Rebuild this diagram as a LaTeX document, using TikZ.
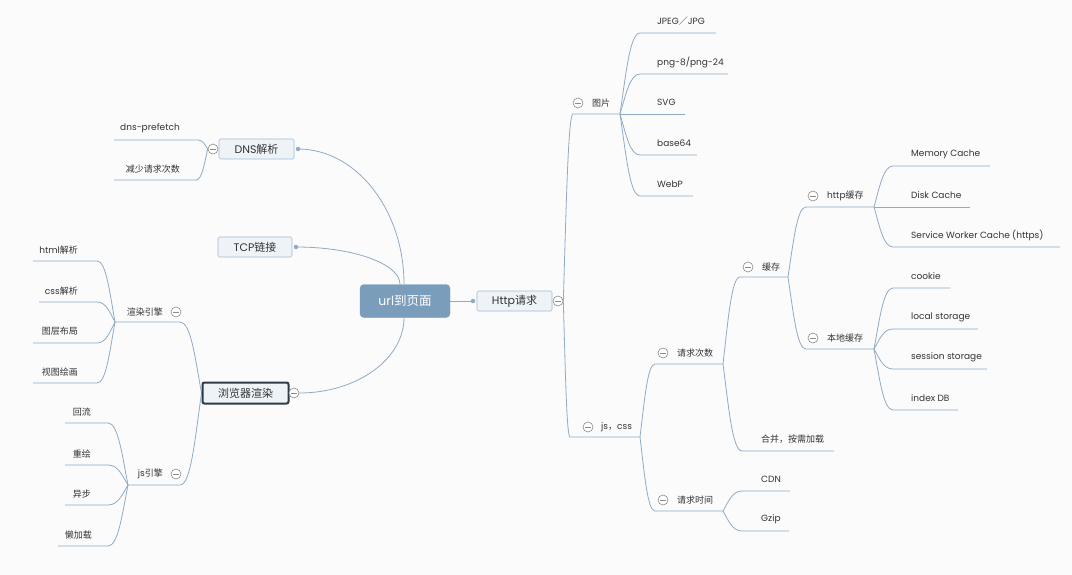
\documentclass[tikz,border=0pt]{standalone}
\usepackage{fontspec}
\setmainfont{Poppins}
\newfontfamily\cjk{Noto Sans CJK SC}
\usetikzlibrary{calc}
\definecolor{bgc}{HTML}{FBFBFB}
\definecolor{lc}{HTML}{8FABC6}
\definecolor{bfill}{HTML}{EEF3F8}
\definecolor{bbord}{HTML}{A3BCD3}
\definecolor{cfill}{HTML}{7B9DBC}
\definecolor{dbord}{HTML}{2E3B47}
\definecolor{tc}{HTML}{333333}
\definecolor{cgray}{HTML}{8A8A8A}
\pgfdeclarelayer{bg}
\pgfsetlayers{bg,main}
\begin{document}
\begin{tikzpicture}[x=1pt,y=-1pt,
  conn/.style={draw=lc, line width=0.8pt},
  mm/.style={to path={let \p1=(\tikztostart), \p2=(\tikztotarget) in
     .. controls ({\x1+0.3*(\x2-\x1)},{\y1+0.5*(\y2-\y1)}) and ({\x2-0.5*(\x2-\x1)},\y2) .. (\tikztotarget)}},
  ql/.style={to path={let \p1=(\tikztostart), \p2=(\tikztotarget) in
     .. controls (\x1,{\y1+0.55*(\y2-\y1)}) and ({\x2-0.55*(\x2-\x1)},\y2) .. (\tikztotarget)}},
  collapse/.style={circle, draw=cgray, fill=white, line width=0.6pt, minimum size=10pt, inner sep=0pt,
     path picture={\draw[cgray, line width=0.6pt] ([xshift=-3pt]path picture bounding box.center) -- ([xshift=3pt]path picture bounding box.center);}},
  dot/.style={circle, fill=lc, minimum size=4.5pt, inner sep=0pt},
  box/.style={draw=bbord, fill=bfill, rounded corners=1.5pt, line width=0.7pt, minimum height=20pt, inner sep=0pt, font=\fontsize{11}{12}\selectfont, text=tc},
  leaf/.style={inner sep=0pt, font=\fontsize{9}{10}\selectfont, text=tc},
  lleaf/.style={leaf, anchor=east},
  rleaf/.style={leaf, anchor=west}
]
\begin{pgfonlayer}{bg}
\fill[bgc] (0,0) rectangle (1072,575);
\end{pgfonlayer}
\useasboundingbox (0,0) rectangle (1072,575);

% ---------- main nodes ----------
\node[draw=cfill, fill=cfill, rounded corners=4pt, minimum width=90pt, minimum height=33pt, inner sep=0pt,
      text=white, font=\fontsize{12.5}{14}\selectfont] (url) at (405,301) {url{\cjk 到页面}};
\node[box, minimum width=75pt] (http) at (514.5,301) {Http{\cjk 请求}};
\node[box, minimum width=75pt] (dns) at (256.5,149) {DNS{\cjk 解析}};
\node[box, minimum width=74pt] (tcp) at (255,247) {TCP{\cjk 链接}};
\node[box, draw=dbord, line width=2pt, rounded corners=2pt, minimum width=86pt, minimum height=21pt] (br) at (245.5,393) {\cjk 浏览器渲染};

\node[dot] (httpdot) at (473,301) {};
\node[dot] (dnsdot) at (298,149) {};
\node[dot] (tcpdot) at (296,247) {};
\node[collapse] (httpc) at (558,301) {};
\node[collapse] (dnsc) at (213,149) {};
\node[collapse] (brc) at (294,393) {};

% ---------- left: DNS ----------
\node[lleaf] (dnsp) at (180,128) {dns-prefetch};
\node[lleaf] (jsqc) at (180,169) {\cjk 减少请求次数};
\coordinate (dnsp-a) at (198,140); \coordinate (dnsp-b) at (114,140);
\coordinate (jsqc-a) at (196,180); \coordinate (jsqc-b) at (114,180);

% ---------- left: browser ----------
\node[lleaf] (xryq) at (163,312) {\cjk 渲染引擎};
\node[collapse] (xryqc) at (176,312) {};
\coordinate (xryq-a) at (180,322); \coordinate (xryq-h) at (115,322);
\node[lleaf] (jsyq) at (163,474) {js{\cjk 引擎}};
\node[collapse] (jsyqc) at (176,474) {};
\coordinate (jsyq-a) at (180,485); \coordinate (jsyq-h) at (128,485);

\node[lleaf] (html) at (78,250) {html{\cjk 解析}};
\node[lleaf] (css) at (78,291) {css{\cjk 解析}};
\node[lleaf] (tcbj) at (78,331) {\cjk 图层布局};
\node[lleaf] (stht) at (78,372) {\cjk 视图绘画};
\coordinate (html-a) at (97,261); \coordinate (html-b) at (33,261);
\coordinate (css-a) at (97,302); \coordinate (css-b) at (39,302);
\coordinate (tcbj-a) at (97,343); \coordinate (tcbj-b) at (33,343);
\coordinate (stht-a) at (97,383); \coordinate (stht-b) at (33,383);

\node[lleaf] (hl) at (91,412) {\cjk 回流};
\node[lleaf] (ch) at (91,454) {\cjk 重绘};
\node[lleaf] (yb) at (91,494) {\cjk 异步};
\node[lleaf] (ljz) at (92,535) {\cjk 懒加载};
\coordinate (hl-a) at (108,423); \coordinate (hl-b) at (65,423);
\coordinate (ch-a) at (108,465); \coordinate (ch-b) at (65,465);
\coordinate (yb-a) at (108,505); \coordinate (yb-b) at (65,505);
\coordinate (ljz-a) at (108,546); \coordinate (ljz-b) at (58,546);

% ---------- right: images ----------
\node[collapse] (tpc) at (578,103) {};
\node[rleaf] (tp) at (592,103) {\cjk 图片};
\coordinate (tp-a) at (573,114); \coordinate (tp-h) at (620,114);
\node[rleaf] (jpg) at (657,21.5) {JPEG{\cjk ／}JPG};
\node[rleaf] (png) at (657,62.5) {png-8/png-24};
\node[rleaf] (svg) at (657,102.5) {SVG};
\node[rleaf] (b64) at (657,143.5) {base64};
\node[rleaf] (webp) at (657,184.5) {WebP};
\coordinate (jpg-a) at (640,33); \coordinate (jpg-b) at (716,33);
\coordinate (png-a) at (640,74); \coordinate (png-b) at (728,74);
\coordinate (svg-b) at (685,114);
\coordinate (b64-a) at (640,155); \coordinate (b64-b) at (697,155);
\coordinate (webp-a) at (640,196); \coordinate (webp-b) at (693,196);

% ---------- right: js, css ----------
\node[collapse] (jcc) at (588,427) {};
\node[rleaf] (jc) at (601,427) {js{\cjk ，}css};
\coordinate (jc-a) at (570,437); \coordinate (jc-h) at (640,437);

\node[collapse] (qqcsc) at (663,353) {};
\node[rleaf] (qqcs) at (677,353) {\cjk 请求次数};
\coordinate (qqcs-a) at (655,364); \coordinate (qqcs-h) at (723,364);
\node[collapse] (qqsjc) at (663,500) {};
\node[rleaf] (qqsj) at (677,500) {\cjk 请求时间};
\coordinate (qqsj-a) at (655,511); \coordinate (qqsj-h) at (723,511);

\node[collapse] (hcc) at (748,267) {};
\node[rleaf] (hc) at (762,267) {\cjk 缓存};
\coordinate (hc-a) at (740,277); \coordinate (hc-h) at (788,277);
\node[rleaf] (hb) at (761,439.5) {\cjk 合并，按需加载};
\coordinate (hb-a) at (742,451); \coordinate (hb-b) at (834,451);

\node[collapse] (httphcc) at (813,196) {};
\node[rleaf] (httphc) at (827,196) {http{\cjk 缓存}};
\coordinate (httphc-a) at (806,207); \coordinate (httphc-h) at (874,207);
\node[collapse] (bdhcc) at (813,338) {};
\node[rleaf] (bdhc) at (827,338) {\cjk 本地缓存};
\coordinate (bdhc-a) at (806,349); \coordinate (bdhc-h) at (874,349);

\node[rleaf] (mem) at (911,154.5) {Memory Cache};
\node[rleaf] (disk) at (911,195.5) {Disk Cache};
\node[rleaf] (sw) at (911,235.5) {Service Worker Cache (https)};
\coordinate (mem-a) at (893,166); \coordinate (mem-b) at (990,166);
\coordinate (disk-b) at (970,207);
\coordinate (sw-a) at (893,247); \coordinate (sw-b) at (1060,247);

\node[rleaf] (ck) at (911,276.5) {cookie};
\node[rleaf] (ls) at (911,317.5) {local storage};
\node[rleaf] (ss) at (911,357.5) {session storage};
\node[rleaf] (idb) at (911,398.5) {index DB};
\coordinate (ck-a) at (893,288); \coordinate (ck-b) at (950,288);
\coordinate (ls-a) at (893,329); \coordinate (ls-b) at (978,329);
\coordinate (ss-a) at (893,369); \coordinate (ss-b) at (987,369);
\coordinate (idb-a) at (893,410); \coordinate (idb-b) at (958,410);

\node[rleaf] (cdn) at (761,479.5) {CDN};
\node[rleaf] (gz) at (761,519.5) {Gzip};
\coordinate (cdn-a) at (742,491); \coordinate (cdn-b) at (790,491);
\coordinate (gz-a) at (742,531); \coordinate (gz-b) at (789,531);

% ---------- connectors ----------
\begin{pgfonlayer}{bg}
\draw[conn] (url.east) -- (httpdot.center);
\draw[conn] ([xshift=-1pt]url.north) to[ql] (dnsdot.center);
\draw[conn] ([xshift=-5pt]url.north) to[ql] (tcpdot.center);
\draw[conn] ([xshift=-1pt]url.south) to[ql] (brc.east);

\draw[conn] (dnsc.west) to[mm] (dnsp-a) -- (dnsp-b);
\draw[conn] (dnsc.west) to[mm] (jsqc-a) -- (jsqc-b);

\draw[conn] (br.west) to[mm] (xryq-a) -- (xryq-h);
\draw[conn] (br.west) to[mm] (jsyq-a) -- (jsyq-h);
\draw[conn] (xryq-h) to[mm] (html-a) -- (html-b);
\draw[conn] (xryq-h) to[mm] (css-a) -- (css-b);
\draw[conn] (xryq-h) to[mm] (tcbj-a) -- (tcbj-b);
\draw[conn] (xryq-h) to[mm] (stht-a) -- (stht-b);
\draw[conn] (jsyq-h) to[mm] (hl-a) -- (hl-b);
\draw[conn] (jsyq-h) to[mm] (ch-a) -- (ch-b);
\draw[conn] (jsyq-h) to[mm] (yb-a) -- (yb-b);
\draw[conn] (jsyq-h) to[mm] (ljz-a) -- (ljz-b);

\draw[conn] (httpc.east) to[mm] (tp-a) -- (tp-h);
\draw[conn] (httpc.east) to[mm] (jc-a) -- (jc-h);
\draw[conn] (tp-h) to[mm] (jpg-a) -- (jpg-b);
\draw[conn] (tp-h) to[mm] (png-a) -- (png-b);
\draw[conn] (tp-h) -- (svg-b);
\draw[conn] (tp-h) to[mm] (b64-a) -- (b64-b);
\draw[conn] (tp-h) to[mm] (webp-a) -- (webp-b);

\draw[conn] (jc-h) to[mm] (qqcs-a) -- (qqcs-h);
\draw[conn] (jc-h) to[mm] (qqsj-a) -- (qqsj-h);
\draw[conn] (qqcs-h) to[mm] (hc-a) -- (hc-h);
\draw[conn] (qqcs-h) to[mm] (hb-a) -- (hb-b);
\draw[conn] (hc-h) to[mm] (httphc-a) -- (httphc-h);
\draw[conn] (hc-h) to[mm] (bdhc-a) -- (bdhc-h);
\draw[conn] (httphc-h) to[mm] (mem-a) -- (mem-b);
\draw[conn] (httphc-h) -- (disk-b);
\draw[conn] (httphc-h) to[mm] (sw-a) -- (sw-b);
\draw[conn] (bdhc-h) to[mm] (ck-a) -- (ck-b);
\draw[conn] (bdhc-h) to[mm] (ls-a) -- (ls-b);
\draw[conn] (bdhc-h) to[mm] (ss-a) -- (ss-b);
\draw[conn] (bdhc-h) to[mm] (idb-a) -- (idb-b);
\draw[conn] (qqsj-h) to[mm] (cdn-a) -- (cdn-b);
\draw[conn] (qqsj-h) to[mm] (gz-a) -- (gz-b);
\end{pgfonlayer}
\end{tikzpicture}
\end{document}
